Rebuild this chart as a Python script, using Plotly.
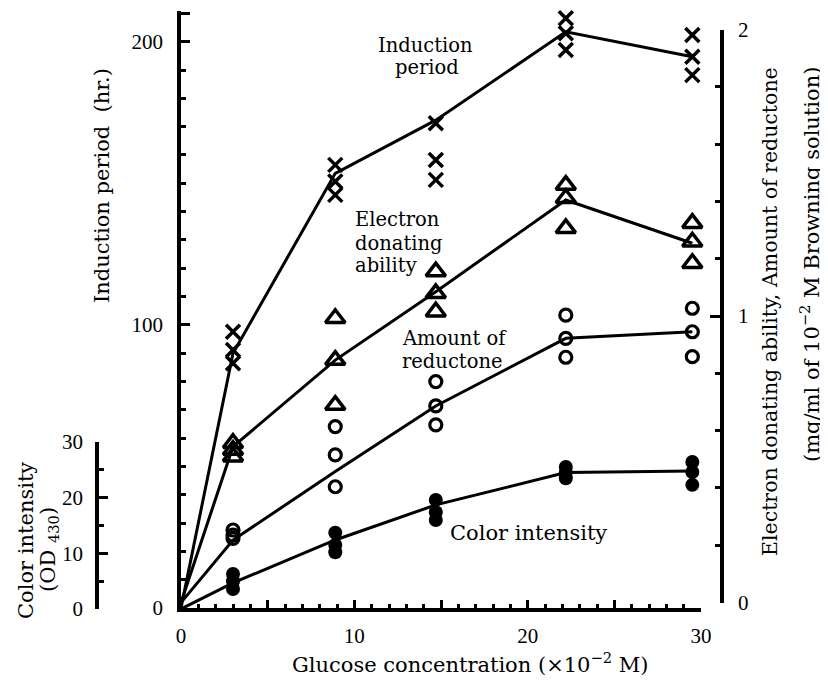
import plotly.graph_objects as go

# ---------------- data ----------------
x_groups = [3.0, 8.9, 14.7, 22.2, 29.5]          # glucose concentration (x10^-2 M)
line_x = [0.0] + x_groups

induction_pts = [[97.6, 91.1, 86.4], [156.5, 150.6, 145.9], [171.2, 158.2, 151.2],
                 [208.3, 203.0, 197.1], [202.4, 194.7, 188.2]]          # hr
induction_line = [0, 90.0, 153.5, 172.3, 203.5, 194.7]

electron_pts = [[0.556, 0.532, 0.509], [0.992, 0.846, 0.689], [1.155, 1.079, 1.015],
                [1.457, 1.411, 1.306], [1.324, 1.259, 1.184]]          # mg/ml
electron_line = [0, 0.544, 0.846, 1.085, 1.405, 1.254]

reductone_pts = [[0.253, 0.235, 0.224], [0.614, 0.515, 0.404], [0.771, 0.686, 0.620],
                 [1.003, 0.922, 0.856], [1.027, 0.945, 0.858]]         # mg/ml
reductone_line = [0, 0.218, 0.457, 0.686, 0.922, 0.945]

color_pts = [[6.3, 5.0, 3.6], [13.7, 11.5, 10.2], [19.6, 17.4, 16.0],
             [25.5, 24.5, 23.5], [26.4, 24.6, 22.3]]                   # OD430
color_line = [0, 4.7, 12.4, 18.7, 24.5, 24.8]

x_ticks = [0, 5, 10, 15, 20, 25, 30]
x_ticktext = ["0", "", "10", "", "20", "", "30"]
left_ticks = [0, 100, 200, 210]
left_ticktext = ["0", "100", "200", ""]
right_ticks = [0, 1, 2]
right_ticktext = ["0", "1", "2"]
color_ticks = [0, 10, 20, 30]
color_ticktext = ["0", "10", "20", "30"]

# ---------------- geometry helpers ----------------
# the page body has an 8px margin, so the figure is drawn 8px in from the corner
OFF = 8
W, H = 828 - OFF, 686 - OFF
PLOT_L, PLOT_R, PLOT_T, PLOT_B = 97, 722, 10, 612   # plot area in page pixels
ML, MR, MT, MB = PLOT_L - OFF, 828 - PLOT_R, PLOT_T - OFF, 686 - PLOT_B
PW = PLOT_R - PLOT_L
PH = PLOT_B - PLOT_T


def fx(px):
    return (px - PLOT_L) / PW


def fy(py):
    return (PLOT_B - py) / PH


def flat(groups):
    xs, ys = [], []
    for xg, vals in zip(x_groups, groups):
        for v in vals:
            xs.append(xg)
            ys.append(v)
    return xs, ys


BLACK = "black"
fig = go.Figure()

# Induction period (left axis)
xs, ys = flat(induction_pts)
fig.add_trace(go.Scatter(x=line_x, y=induction_line, mode="lines",
                         line=dict(color=BLACK, width=3), yaxis="y", cliponaxis=False))
fig.add_trace(go.Scatter(x=xs, y=ys, mode="markers", yaxis="y", cliponaxis=False,
                         marker=dict(symbol="x-thin", size=14,
                                     line=dict(color=BLACK, width=3.5))))

# Electron donating ability (right axis)
xs, ys = flat(electron_pts)
fig.add_trace(go.Scatter(x=line_x, y=electron_line, mode="lines",
                         line=dict(color=BLACK, width=3), yaxis="y2", cliponaxis=False))
fig.add_trace(go.Scatter(x=xs, y=ys, mode="markers", yaxis="y2", cliponaxis=False,
                         marker=dict(symbol="triangle-up-open", size=17, color=BLACK,
                                     line=dict(color=BLACK, width=3.5))))

# Amount of reductone (right axis)
xs, ys = flat(reductone_pts)
fig.add_trace(go.Scatter(x=line_x, y=reductone_line, mode="lines",
                         line=dict(color=BLACK, width=3), yaxis="y2", cliponaxis=False))
fig.add_trace(go.Scatter(x=xs, y=ys, mode="markers", yaxis="y2", cliponaxis=False,
                         marker=dict(symbol="circle-open", size=12, color=BLACK,
                                     line=dict(color=BLACK, width=3.2))))

# Color intensity (small left axis)
xs, ys = flat(color_pts)
fig.add_trace(go.Scatter(x=line_x, y=color_line, mode="lines",
                         line=dict(color=BLACK, width=3), yaxis="y3", cliponaxis=False))
fig.add_trace(go.Scatter(x=xs, y=ys, mode="markers", yaxis="y3", cliponaxis=False,
                         marker=dict(symbol="circle", size=14, color=BLACK)))

TICKFONT = dict(family="Liberation Serif", size=21, color=BLACK)

axis_common = dict(showline=True, linecolor=BLACK, linewidth=3.5, showgrid=False,
                   zeroline=False, ticks="inside", tickcolor=BLACK, tickwidth=3,
                   tickfont=TICKFONT, tickmode="array", automargin=False)

fig.update_layout(
    template="none",
    width=W, height=H,
    margin=dict(l=ML, r=MR, t=MT, b=MB, autoexpand=False),
    paper_bgcolor="white", plot_bgcolor="rgba(0,0,0,0)",
    showlegend=False,
    xaxis=dict(axis_common, domain=[fx(181), fx(701)], range=[0, 30], anchor="y",
               tickvals=x_ticks, ticktext=x_ticktext, ticklen=8, ticklabelstandoff=6,
               minor=dict(tickmode="linear", tick0=0, dtick=1, ticks="inside",
                          ticklen=4, tickwidth=2.5, tickcolor=BLACK)),
    yaxis=dict(axis_common, domain=[fy(608), fy(608 - 211 * 2.8315)], range=[0, 211],
               anchor="x", tickvals=left_ticks, ticktext=left_ticktext, ticklen=9,
               ticklabelstandoff=10,
               minor=dict(tickmode="linear", tick0=0, dtick=10, ticks="inside",
                          ticklen=5, tickwidth=3, tickcolor=BLACK)),
    yaxis2=dict(axis_common, domain=[fy(602.5), fy(29.5)], range=[0, 2],
                anchor="free", position=1, side="right",
                tickvals=right_ticks, ticktext=right_ticktext, ticklen=10,
                ticklabelstandoff=10,
                minor=dict(tickmode="linear", tick0=0, dtick=0.2, ticks="inside",
                           ticklen=5, tickwidth=3, tickcolor=BLACK)),
    yaxis3=dict(axis_common, domain=[fy(609), fy(442)], range=[0, 30],
                anchor="free", position=0, side="left",
                tickvals=color_ticks, ticktext=color_ticktext, ticklen=9,
                ticklabelstandoff=8,
                minor=dict(tickmode="linear", tick0=0, dtick=5, ticks="inside",
                           ticklen=5, tickwidth=3, tickcolor=BLACK)),
)


def note(text, px, py, xanchor="center", angle=0, size=19.5):
    fig.add_annotation(text=text, x=fx(px), y=fy(py), xref="paper", yref="paper",
                       xanchor=xanchor, yanchor="middle", showarrow=False,
                       textangle=angle,
                       font=dict(family="DejaVu Serif", size=size, color=BLACK))


# in-plot labels
note("Induction", 425, 46)
note("period", 427, 67)
note("Electron", 353, 220, "left")
note("donating", 353, 243, "left")
note("ability", 353, 265, "left")
note("Amount of", 400, 338, "left")
note("reductone", 400, 361, "left")
note("Color intensity", 448, 533, "left", size=21)

# axis titles
note("Induction period\u00a0\u00a0(hr.)", 102, 186, angle=-90, size=21)
note("Color intensity", 26, 541, angle=-90, size=21)
note("(OD <sub>430</sub>)", 49, 550, angle=-90, size=21)
note("Electron donating ability, Amount of reductone", 770, 312, angle=-90, size=20.5)
note("(mg/ml of 10<sup>\u22122</sup> M Browning solution)", 810, 265, angle=-90, size=21)
note("Glucose concentration (\u00d710<sup>\u22122</sup> M)", 470, 663, size=21)

fig.write_html("out.html")
